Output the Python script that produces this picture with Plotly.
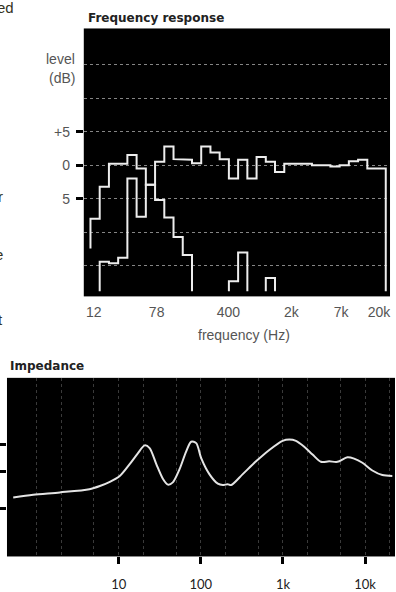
import plotly.graph_objects as go

W, H = 396, 592

# ---------------- Frequency response (1/3-octave band levels, dB) ----------------
# band index: 0 = lowest band (~12 Hz)
fr_tick_pos = [0.36, 7.17, 14.95, 21.76, 27.17, 31.27]
fr_tick_text = ["12", "78", "400", "2k", "7k", "20k"]

main_first = 0
main_levels = [-8.0, -3.2, 0.2, 0.2, 1.5, -0.5, -2.9, 0.5, 2.8, 0.9, 0.8, 0.3,
               2.8, 1.9, 0.9, -2.0, 0.8, -2.0, 1.2, 0.5, -1.0, 0.2, 0.2, 0.2,
               0.0, 0.0, -0.2, 0.0, 0.6, 0.8, -0.5, -0.5]
main_in, main_out = -12.4, -18.8

bass_first = 1
bass_levels = [-14.4, -14.6, -13.8, -2.0, -7.7, -2.9, -5.2, -7.8, -10.7, -13.4]
bass_in, bass_out = -18.8, -18.8

mid1_first = 15
mid1_levels = [-17.3, -13.0]
mid1_in, mid1_out = -18.8, -18.8

mid2_first = 19
mid2_levels = [-16.8]
mid2_in, mid2_out = -18.8, -18.8

level_ticks = [5, 0, -5]
level_tick_text = ["+5", "0", "5"]
level_grid_extra = [15, 10, -10, -15]

# ---------------- Impedance ----------------
imp_freq = [0.52, 0.91, 1.92, 4.4, 5.9, 7.8, 10.3, 13.6, 17.0, 20.7, 23.8, 28.7,
            34.5, 39.7, 45.6, 55.1, 66.4, 76.3, 87.9, 101, 127, 161, 185, 212,
            234, 324, 470, 682, 989, 1193, 1440, 1815, 2290, 2897, 3656, 4606,
            6095, 7349, 9270, 12250, 16220, 21440]
imp_ohm = [12.4, 13.0, 13.5, 14.2, 14.9, 15.8, 17.1, 19.7, 22.0, 23.8, 23.2, 19.7,
           16.5, 15.2, 15.7, 18.6, 22.5, 24.6, 24.3, 21.0, 17.5, 15.4, 15.1, 15.3,
           15.1, 17.5, 20.3, 22.8, 24.8, 25.1, 24.8, 23.5, 21.8, 20.2, 20.3, 20.2,
           21.2, 20.9, 20.0, 18.3, 17.3, 17.1]
imp_ticks = [24, 18, 10]
imp_xticks = [10, 100, 1000, 10000]
imp_xtick_text = ["10", "100", "1k", "10k"]
imp_grid = [1, 2, 5, 10, 20, 50, 100, 200, 500, 1000, 2000, 5000, 10000, 20000]


def step_xy(first, levels, lead_in, lead_out):
    xs, ys = [first], [lead_in]
    for i, lv in enumerate(levels):
        xs += [first + i, first + i + 1]
        ys += [lv, lv]
    xs.append(first + len(levels))
    ys.append(lead_out)
    return xs, ys


def px(x):
    return x / W


def py(y):
    return 1 - y / H


fig = go.Figure()
line_col = "#ededed"
for first, lv, a, b in [(main_first, main_levels, main_in, main_out),
                        (bass_first, bass_levels, bass_in, bass_out),
                        (mid1_first, mid1_levels, mid1_in, mid1_out),
                        (mid2_first, mid2_levels, mid2_in, mid2_out)]:
    xs, ys = step_xy(first, lv, a, b)
    fig.add_trace(go.Scatter(x=xs, y=ys, mode="lines", xaxis="x", yaxis="y",
                             line=dict(color=line_col, width=2),
                             hoverinfo="skip"))

fig.add_trace(go.Scatter(x=imp_freq, y=imp_ohm, mode="lines", xaxis="x2", yaxis="y2",
                         line=dict(color="#e4e4e4", width=2, shape="spline", smoothing=0.8),
                         hoverinfo="skip"))

num_font = dict(family="Liberation Sans, Arial, sans-serif", size=14, color="#555555")
grid_col = "#858585"

fig.update_layout(
    width=W, height=H,
    margin=dict(l=0, r=0, t=0, b=0),
    paper_bgcolor="white", plot_bgcolor="black",
    showlegend=False,
    xaxis=dict(domain=[px(84), px(391)], anchor="y", range=[-0.724, 32.46],
               tickmode="array", tickvals=fr_tick_pos, ticktext=fr_tick_text,
               ticks="outside", ticklen=3, tickcolor="white",
               showgrid=False, zeroline=False, showline=False,
               tickfont=num_font, fixedrange=True),
    yaxis=dict(domain=[py(302), py(29)], anchor="x", range=[-19.55, 20.37],
               tickmode="array", tickvals=level_ticks, ticktext=level_tick_text,
               ticks="outside", ticklen=7, tickwidth=3, tickcolor="black",
               ticklabelstandoff=3,
               showgrid=True, gridcolor=grid_col, griddash="dot", gridwidth=1,
               minor=dict(tickmode="array", tickvals=level_grid_extra, showgrid=True,
                          gridcolor=grid_col, griddash="dot", gridwidth=1, ticks=""),
               zeroline=False, showline=False, tickfont=num_font, fixedrange=True),
    xaxis2=dict(type="log", domain=[px(7), 1], anchor="y2", range=[-0.36, 4.364],
                tickmode="array", tickvals=imp_xticks, ticktext=imp_xtick_text,
                ticks="outside", ticklen=7, tickwidth=3, tickcolor="black",
                ticklabelstandoff=9,
                showgrid=False, zeroline=False, showline=False,
                minor=dict(tickmode="array", tickvals=imp_grid, showgrid=True,
                           gridcolor="#3a3a3a", griddash="dot", gridwidth=1, ticks=""),
                tickfont=dict(family="Lato, sans-serif", size=13, color="#222222"),
                fixedrange=True),
    yaxis2=dict(domain=[py(567), py(385)], anchor="x2", range=[-0.54, 38.6],
                tickmode="array", tickvals=imp_ticks, showticklabels=False,
                ticks="outside", ticklen=7, tickwidth=3, tickcolor="black",
                showgrid=False, zeroline=False, showline=False, fixedrange=True),
)

title_font = dict(family="DejaVu Sans, sans-serif", size=12, color="#222222")
side_font = dict(family="Liberation Sans, sans-serif", size=15, color="#333322")
ann = [
    dict(text="<b>Frequency response</b>", x=px(86), y=py(18), xanchor="left", yanchor="middle", font=title_font),
    dict(text="<b>Impedance</b>", x=px(8), y=py(373), xanchor="left", yanchor="middle", font=title_font),
    dict(text="level", x=px(77), y=py(60), xanchor="right", yanchor="middle", font=num_font),
    dict(text="(dB)", x=px(77), y=py(79), xanchor="right", yanchor="middle", font=num_font),
    dict(text="frequency (Hz)", x=px(245), y=py(341), xanchor="center", yanchor="middle", font=num_font),
    # clipped article text at the left edge
    dict(text="ed", x=px(16), y=py(8), xanchor="right", yanchor="middle", font=side_font),
    dict(text="r", x=px(5), y=py(200), xanchor="right", yanchor="middle", font=side_font),
    dict(text="e", x=px(5), y=py(259), xanchor="right", yanchor="middle", font=side_font),
    dict(text="t", x=px(5), y=py(326), xanchor="right", yanchor="middle", font=side_font),
]
for a in ann:
    a.update(xref="paper", yref="paper", showarrow=False)
fig.update_layout(annotations=ann)

fig.write_html("out.html", config={"displayModeBar": False},
               post_script="document.body.style.margin='0px';")
